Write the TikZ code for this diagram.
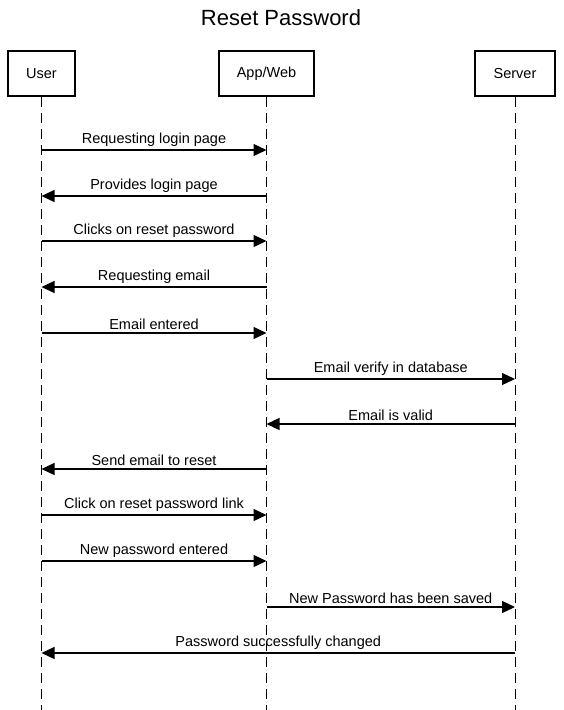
\documentclass[tikz,border=0pt]{standalone}
\usepackage{fontspec}
\setmainfont{Liberation Sans}
\usetikzlibrary{arrows.meta,positioning}

\tikzset{
  actor/.style={draw, line width=2pt, minimum height=45pt, font=\fontsize{14.5}{17}\selectfont},
  lifeline/.style={dashed, dash pattern=on 10pt off 6pt, line width=1pt},
  msg/.style={-{Triangle[length=13pt,width=12pt]}, line width=1.2pt}
}

\begin{document}
\begin{tikzpicture}[x=1pt,y=-1pt,font=\fontsize{14.5}{17}\selectfont]
   \useasboundingbox (0,0) rectangle (563,710);

   \node (title) at (281,18) {\fontsize{22}{26}\selectfont Reset Password};

   \node[actor, minimum width=67pt] (user) at (41.5,73.5) {User};
   \node[actor, minimum width=95pt] (app) at (266.5,73.5) {App/Web};
   \node[actor, minimum width=80pt] (server) at (515,73.5) {Server};

   \coordinate (uend) at (41.5,710);
   \coordinate (aend) at (266.5,710);
   \coordinate (send) at (515,710);

   \draw[lifeline] (user) -- (uend);
   \draw[lifeline] (app) -- (aend);
   \draw[lifeline] (server) -- (send);

   % points on the lifelines, one row per message
   \foreach \i/\y in {1/150,2/196,3/241,4/287,5/333,6/379,7/424,8/469,9/515,10/561,11/607,12/653} {
      \coordinate (u\i) at (41.5,\y);
      \coordinate (a\i) at (266.5,\y);
      \coordinate (s\i) at (515,\y);
   }

   \path[msg] (u1) edge node[above, inner sep=3pt] {Requesting login page} (a1);
   \path[msg] (a2) edge node[above, inner sep=3pt] {Provides login page} (u2);
   \path[msg] (u3) edge node[above, inner sep=3pt] {Clicks on reset password} (a3);
   \path[msg] (a4) edge node[above, inner sep=3pt] {Requesting email} (u4);
   \path[msg] (u5) edge node[above, inner sep=3pt] {Email entered} (a5);

   \path[msg] (a6) edge node[above, inner sep=3pt] {Email verify in database} (s6);
   \path[msg] (s7) edge node[above, inner sep=3pt] {Email is valid} (a7);

   \path[msg] (a8) edge node[above, inner sep=3pt] {Send email to reset} (u8);
   \path[msg] (u9) edge node[above, inner sep=3pt] {Click on reset password link} (a9);
   \path[msg] (u10) edge node[above, inner sep=3pt] {New password entered} (a10);

   \path[msg] (a11) edge node[above, inner sep=3pt] {New Password has been saved} (s11);
   \path[msg] (s12) edge node[above, inner sep=3pt] {Password successfully changed} (u12);
\end{tikzpicture}
\end{document}
